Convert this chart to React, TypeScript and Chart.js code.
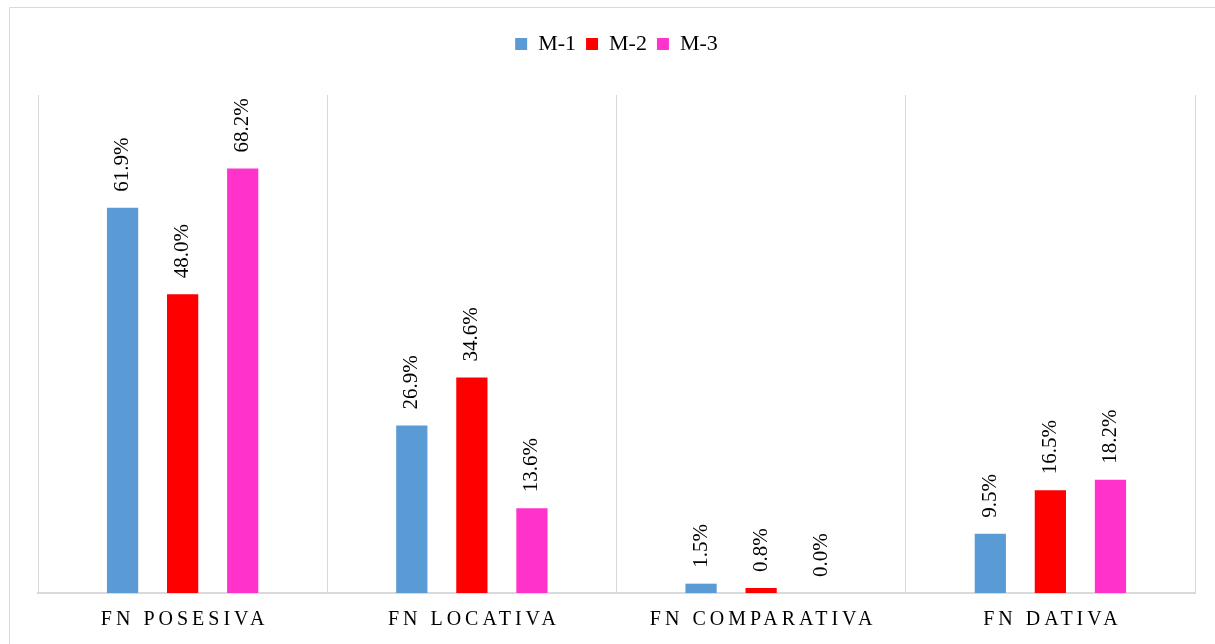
import React, { useEffect, useRef } from "react";
import { Chart, registerables } from "chart.js";

Chart.register(...registerables);

const categories = ["FN POSESIVA", "FN LOCATIVA", "FN COMPARATIVA", "FN DATIVA"];
const seriesNames = ["M-1", "M-2", "M-3"];
const m1Values = [61.9, 26.9, 1.5, 9.5];
const m2Values = [48.0, 34.6, 0.8, 16.5];
const m3Values = [68.2, 13.6, 0.0, 18.2];
const seriesColors = ["#5B9BD5", "#FF0000", "#FF33CC"];

const SERIF = "'Liberation Serif', 'Times New Roman', serif";

const borderPlugin = {
  id: "outerBorder",
  beforeDraw(chart: any) {
    const ctx = chart.ctx;
    ctx.save();
    ctx.strokeStyle = "#d9d9d9";
    ctx.lineWidth = 1;
    ctx.beginPath();
    ctx.moveTo(9.5, chart.height + 5);
    ctx.lineTo(9.5, 7.5);
    ctx.lineTo(chart.width + 5, 7.5);
    ctx.stroke();
    ctx.restore();
  },
};

const legendSpacePlugin = {
  id: "legendSpace",
  beforeInit(chart: any) {
    const legend = chart.legend;
    if (!legend) return;
    const origFit = legend.fit;
    legend.fit = function () {
      origFit.call(this);
      this.height = 72;
    };
  },
};

const valueLabelPlugin = {
  id: "valueLabels",
  afterDatasetsDraw(chart: any) {
    const ctx = chart.ctx;
    ctx.save();
    ctx.font = `21px ${SERIF}`;
    ctx.fillStyle = "#000";
    ctx.textAlign = "left";
    ctx.textBaseline = "middle";
    chart.data.datasets.forEach((ds: any, di: number) => {
      const meta = chart.getDatasetMeta(di);
      meta.data.forEach((bar: any, i: number) => {
        const v = ds.data[i];
        ctx.save();
        ctx.translate(bar.x, bar.y - 16);
        ctx.rotate(-Math.PI / 2);
        ctx.fillText(v.toFixed(1) + "%", 0, 0);
        ctx.restore();
      });
    });
    ctx.restore();
  },
};

const categoryLabelPlugin = {
  id: "categoryLabels",
  afterDraw(chart: any) {
    const ctx = chart.ctx;
    const xScale = chart.scales.x;
    const spacing = 4;
    ctx.save();
    ctx.font = `20px ${SERIF}`;
    (ctx as any).letterSpacing = spacing + "px";
    ctx.fillStyle = "#000";
    ctx.textAlign = "center";
    ctx.textBaseline = "middle";
    chart.data.labels.forEach((lab: string, i: number) => {
      const x = xScale.getPixelForValue(i);
      ctx.fillText(lab, x + spacing / 2, 620);
    });
    ctx.restore();
  },
};

export default function App() {
  const canvasRef = useRef<HTMLCanvasElement | null>(null);

  useEffect(() => {
    if (!canvasRef.current) return;
    const valueSets = [m1Values, m2Values, m3Values];
    const chart = new Chart(canvasRef.current, {
      type: "bar",
      data: {
        labels: categories,
        datasets: seriesNames.map((name, i) => ({
          label: name,
          data: valueSets[i],
          backgroundColor: seriesColors[i],
          borderWidth: 0,
          categoryPercentage: 0.623,
          barPercentage: 0.52,
        })),
      },
      options: {
        animation: false,
        responsive: true,
        maintainAspectRatio: false,
        layout: { padding: { left: 38, right: 20, top: 23, bottom: 51 } },
        plugins: {
          legend: {
            display: true,
            position: "top",
            labels: {
              boxWidth: 12,
              boxHeight: 12,
              padding: 10,
              color: "#000",
              font: { family: SERIF, size: 22 },
            },
          },
          tooltip: { enabled: false },
        },
        scales: {
          x: {
            type: "category",
            offset: true,
            grid: {
              display: true,
              offset: true,
              color: "#d9d9d9",
              lineWidth: 1,
              drawTicks: false,
            },
            border: { display: true, color: "#d9d9d9", width: 2 },
            ticks: { display: false },
          },
          y: {
            display: false,
            min: 0,
            max: 80,
          },
        },
      },
      plugins: [borderPlugin, legendSpacePlugin, valueLabelPlugin, categoryLabelPlugin],
    });
    return () => chart.destroy();
  }, []);

  return (
    <div style={{ position: "fixed", left: 0, top: 0, width: 1215, height: 644, background: "#fff" }}>
      <canvas ref={canvasRef} />
    </div>
  );
}
